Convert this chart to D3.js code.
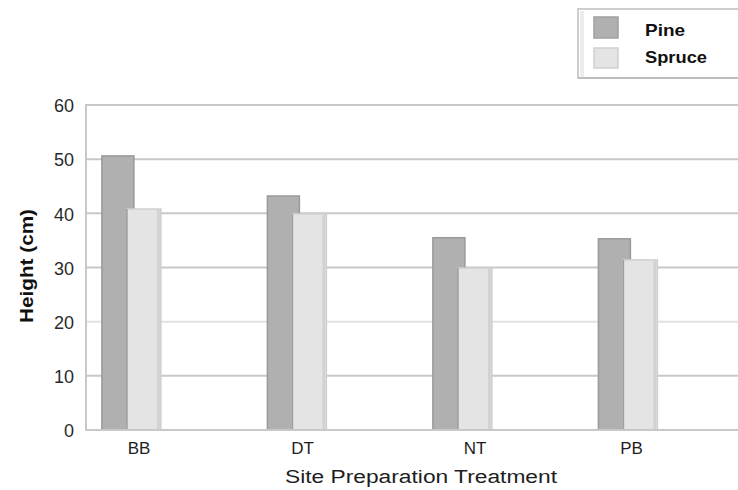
<!DOCTYPE html>
<html><head><meta charset="utf-8">
<script src="https://cdn.jsdelivr.net/npm/d3@7/dist/d3.min.js"></script>
<style>body{margin:0;background:#fff}svg{display:block;font-family:"Liberation Sans",Arial,sans-serif}</style>
</head><body><svg id="c" width="738" height="490"></svg>
<script>
const categories = ["BB","DT","NT","PB"];
const pine = [50.6, 43.2, 35.5, 35.3];
const spruce = [40.8, 39.9, 29.9, 31.4];
const yTicks = [0,10,20,30,40,50,60];
const seriesNames = ["Pine","Spruce"];

(function(){
const svg = d3.select("#c");
const FONT = "Liberation Sans, Arial, sans-serif";
const pl = 86, pr = 748, pt = 105, pb = 430;
const x = d3.scaleBand().domain(categories).range([pl, pr]).paddingInner(0).paddingOuter(0);
const y = d3.scaleLinear().domain([0,60]).range([pb, pt]);

// grid
svg.append("g").selectAll("line").data(yTicks).join("line")
  .attr("x1", pl).attr("x2", 738)
  .attr("y1", d=>y(d)).attr("y2", d=>y(d))
  .attr("stroke", d=> d===20 ? "#e2e2e2" : "#c8c8c8").attr("stroke-width", 2);
svg.append("line").attr("x1", pl).attr("x2", pl).attr("y1", pt-1).attr("y2", pb+1)
  .attr("stroke","#c8c8c8").attr("stroke-width",2);

// y axis labels
const yAxis = d3.axisLeft(y).tickValues(yTicks).tickSize(0).tickPadding(0);
const ga = svg.append("g").attr("transform", `translate(${pl-12},1)`).call(yAxis);
ga.select(".domain").remove();
ga.selectAll("text").attr("font-size", 18).attr("fill", "#2a2a2a").attr("font-family", FONT);

// bars
const g = svg.append("g");
const bw = x.bandwidth();
const off = bw*0.096;
categories.forEach((c,i)=>{
  const x0 = x(c);
  g.append("rect").attr("x", x0+off).attr("y", y(pine[i])).attr("width", 32).attr("height", y(0)-y(pine[i]))
    .attr("fill","#b0b0b0").attr("stroke","#9a9a9a").attr("stroke-width",1.5);
  g.append("rect").attr("x", x0+off+25).attr("y", y(spruce[i])).attr("width", 34).attr("height", y(0)-y(spruce[i]))
    .attr("fill","#e4e4e4").attr("stroke","#cfcfcf").attr("stroke-width",1.5);
  g.append("rect").attr("x", x0+off+25+30).attr("y", y(spruce[i])+1).attr("width", 3).attr("height", y(0)-y(spruce[i])-1)
    .attr("fill","#d2d2d2");
  g.append("line").attr("x1", x0+off+25).attr("x2", x0+off+25).attr("y1", y(spruce[i])).attr("y2", y(0))
    .attr("stroke","#9e9e9e").attr("stroke-width",1.5);
});
svg.append("line").attr("x1", pl).attr("x2", 738).attr("y1", y(0)).attr("y2", y(0)).attr("stroke","#c8c8c8").attr("stroke-width",2);

// x labels
const nudge = [0,-2,5,-4];
const xAxis = d3.axisBottom(x).tickSize(0).tickPadding(0);
const gx = svg.append("g").attr("transform", `translate(${53-bw/2},${pb+12})`).call(xAxis);
gx.select(".domain").remove();
gx.selectAll("text").attr("font-size", 17).attr("fill", "#1e1e1e").attr("font-family", FONT)
  .attr("dx", (d,i)=>nudge[i]);

// titles
svg.append("text").attr("x", 421).attr("y", 483).attr("text-anchor","middle")
  .attr("font-size", 18).attr("fill","#1e1e1e").attr("textLength", 272).attr("lengthAdjust","spacingAndGlyphs")
  .text("Site Preparation Treatment");
svg.append("text").attr("transform","translate(33,266) rotate(-90)").attr("text-anchor","middle")
  .attr("font-size", 19).attr("font-weight","bold").attr("fill","#111")
  .attr("textLength", 114).attr("lengthAdjust","spacingAndGlyphs").text("Height (cm)");

// legend
const lg = svg.append("g");
lg.append("rect").attr("x", 578).attr("y", 9).attr("width", 170).attr("height", 69)
  .attr("fill","#fff").attr("stroke","#cdcdcd").attr("stroke-width",2);
lg.append("line").attr("x1",578).attr("x2",738).attr("y1",78).attr("y2",78).attr("stroke","#bdbdbd").attr("stroke-width",2);
lg.append("rect").attr("x", 580).attr("y", 11).attr("width", 4).attr("height", 66).attr("fill","#ececec");
const sw = [{f:"#b0b0b0",s:"#a0a0a0",y:17,h:21,ty:36,tl:40},{f:"#e4e4e4",s:"#cfcfcf",y:48,h:20,ty:63,tl:62}];
seriesNames.forEach((n,i)=>{
  lg.append("rect").attr("x",594).attr("y",sw[i].y).attr("width",24).attr("height",sw[i].h)
    .attr("fill",sw[i].f).attr("stroke",sw[i].s).attr("stroke-width",1.5);
  lg.append("text").attr("x",645).attr("y",sw[i].ty).attr("font-size",17).attr("font-weight","bold")
    .attr("fill","#111").attr("textLength", sw[i].tl).attr("lengthAdjust","spacingAndGlyphs").text(n);
});
})();
</script></body></html>
